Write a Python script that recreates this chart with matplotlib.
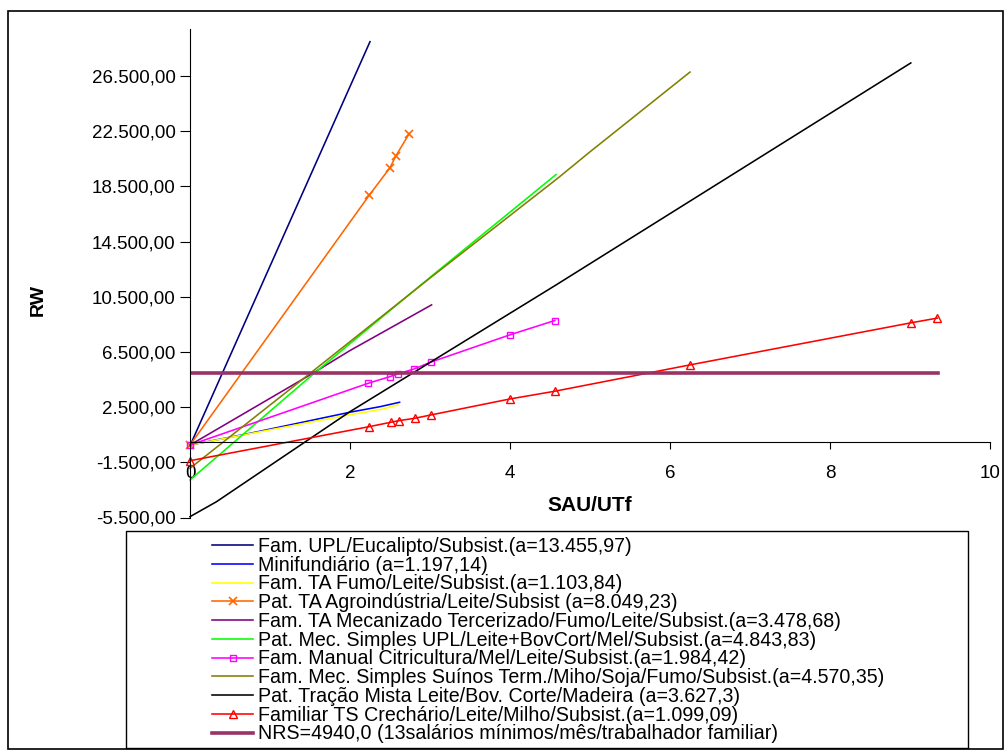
import numpy as np
import matplotlib.pyplot as plt
from matplotlib.patches import Rectangle
from matplotlib.ticker import FuncFormatter

plt.rcParams['font.family'] = ['Liberation Sans', 'DejaVu Sans']

# series (SAU/UTf, RW)
upl_x = [0, 2.25]
upl_y = [-300, 28980]

mini_x = [0, 0.75, 2.0, 2.375, 2.62]
mini_y = [-250, 600, 2130, 2530, 2850]

fumo_x = [0, 1.0, 2.0, 2.4, 2.6]
fumo_y = [-250, 850, 1950, 2350, 2660]

agro_x = [0, 2.24, 2.5, 2.575, 2.74]
agro_y = [-250, 17850, 19850, 20720, 22320]

mec_x = [0, 1.5, 2.0, 2.5, 3.02]
mec_y = [-250, 4830, 6600, 8220, 9910]

upl2_x = [0, 1.55, 3.0, 4.575]
upl2_y = [-2780, 4940, 11900, 19350]

citri_x = [0, 2.23, 2.5, 2.596, 2.805, 3.007, 3.998, 4.56]
citri_y = [-250, 4230, 4710, 4905, 5270, 5755, 7735, 8775]

suin_x = [0, 1.5, 3.0, 4.6, 5.0, 6.25]
suin_y = [-1935, 4940, 11850, 19100, 21000, 26780]

trac_x = [0, 0.33, 2.0, 4.575, 9.01]
trac_y = [-5440, -4360, 2170, 11350, 27440]

crech_x = [0, 2.24, 2.51, 2.61, 2.81, 3.01, 4.0, 4.56, 6.25, 9.01, 9.34]
crech_y = [-1385, 1083, 1400, 1517, 1690, 1930, 3091, 3650, 5559, 8606, 8948]

nrs_x = [0, 9.35]
nrs_y = [4940, 4940]

labels = [
    "Fam. UPL/Eucalipto/Subsist.(a=13.455,97)",
    "Minifundiário (a=1.197,14)",
    "Fam. TA Fumo/Leite/Subsist.(a=1.103,84)",
    "Pat. TA Agroindústria/Leite/Subsist (a=8.049,23)",
    "Fam. TA Mecanizado Tercerizado/Fumo/Leite/Subsist.(a=3.478,68)",
    "Pat. Mec. Simples UPL/Leite+BovCort/Mel/Subsist.(a=4.843,83)",
    "Fam. Manual Citricultura/Mel/Leite/Subsist.(a=1.984,42)",
    "Fam. Mec. Simples Suínos Term./Miho/Soja/Fumo/Subsist.(a=4.570,35)",
    "Pat. Tração Mista Leite/Bov. Corte/Madeira (a=3.627,3)",
    "Familiar TS Crechário/Leite/Milho/Subsist.(a=1.099,09)",
    "NRS=4940,0 (13salários mínimos/mês/trabalhador familiar)",
]
colors = ['#000080', '#0000FF', '#FFFF00', '#FF6600', '#800080', '#00FF00',
          '#FF00FF', '#808000', '#000000', '#FF0000', '#993366']

yticks = [-5500, -1500, 2500, 6500, 10500, 14500, 18500, 22500, 26500]
xticks = [0, 2, 4, 6, 8, 10]


def br_fmt(v, pos):
    s = f"{v:,.2f}"
    return s.replace(',', '#').replace('.', ',').replace('#', '.')


fig = plt.figure(figsize=(10.05, 7.51), dpi=100)
ax = fig.add_axes([190/1005, 1-517.5/751, 800/1005, (517.5-29)/751])

lw = 1.15
series = [(upl_x, upl_y), (mini_x, mini_y), (fumo_x, fumo_y), (agro_x, agro_y),
          (mec_x, mec_y), (upl2_x, upl2_y), (citri_x, citri_y), (suin_x, suin_y),
          (trac_x, trac_y), (crech_x, crech_y)]
for i, (xs, ys) in enumerate(series):
    kw = dict(color=colors[i], lw=lw, label=labels[i])
    if i == 3:
        kw.update(marker='x', ms=6, mew=1.2)
    if i == 6:
        kw.update(marker='s', ms=4.5, mfc='none', mew=1.0)
    if i == 9:
        kw.update(marker='^', ms=5.5, mfc='none', mew=1.0)
    ax.plot(xs, ys, clip_on=False, **kw)
ax.plot(nrs_x, nrs_y, color=colors[10], lw=2.6, label=labels[10])

ax.set_xlim(0, 10)
ax.set_ylim(-5500, 29900)
ax.set_xticks(xticks)
ax.set_yticks(yticks)
ax.yaxis.set_major_formatter(FuncFormatter(br_fmt))
ax.spines['top'].set_visible(False)
ax.spines['right'].set_visible(False)
ax.spines['bottom'].set_position(('data', 0))
ax.tick_params(axis='y', direction='out', length=7, width=0.8, labelsize=13.5, pad=3.5)
ax.tick_params(axis='x', direction='out', length=5, width=0.8, labelsize=13.5, pad=12)

ax.set_ylabel('RW', fontsize=14, fontweight='bold')
ax.yaxis.set_label_coords(-0.179, 0.445)
ax.set_xlabel('SAU/UTf', fontsize=15, fontweight='bold')
ax.xaxis.set_label_coords(0.5, 0.044)

# legend box and outer frame
fig.patches.append(Rectangle((126/1005, 1-748/751), (968-126)/1005, (748-531)/751,
                             transform=fig.transFigure, fill=True, facecolor='white',
                             edgecolor='black', lw=1.0, zorder=3))
fig.patches.append(Rectangle((8/1005, 1-749/751), (1003-8)/1005, (749-11)/751,
                             transform=fig.transFigure, fill=False,
                             edgecolor='black', lw=1.2))
leg = fig.legend(loc='upper left', bbox_to_anchor=(212/1005, 1-537/751),
                 frameon=False, fontsize=14.1, handlelength=2.1, handletextpad=0.25,
                 labelspacing=-0.013, borderpad=0, borderaxespad=0)
leg.set_zorder(4)

fig.savefig('out.png', dpi=100)
